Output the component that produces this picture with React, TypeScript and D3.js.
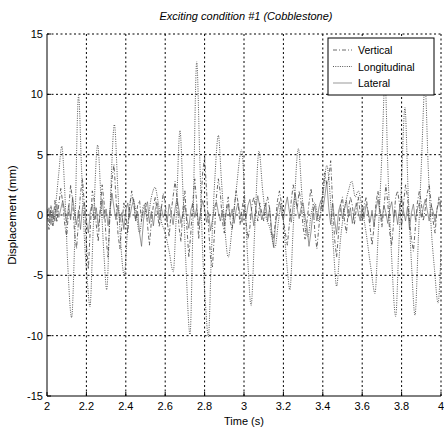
import React from "react";
import * as d3 from "d3";

const title = "Exciting condition #1 (Cobblestone)";
const xLabel = "Time (s)";
const yLabel = "Displacement (mm)";
const xTicks = [2, 2.2, 2.4, 2.6, 2.8, 3, 3.2, 3.4, 3.6, 3.8, 4];
const yTicks = [-15, -10, -5, 0, 5, 10, 15];
const seriesNames = ["Vertical", "Longitudinal", "Lateral"];

// Longitudinal: key samples (time, value)
const longT = [
  2.0, 2.01, 2.02, 2.03, 2.045, 2.06, 2.075, 2.09, 2.105, 2.125, 2.14, 2.16, 2.175, 2.19, 2.205, 2.218,
  2.235, 2.257, 2.275, 2.29, 2.303, 2.32, 2.342, 2.36, 2.375, 2.392, 2.41, 2.43, 2.45, 2.47, 2.49, 2.51,
  2.53, 2.548, 2.565, 2.58, 2.6, 2.62, 2.641, 2.655, 2.675, 2.69, 2.705, 2.726, 2.742, 2.76, 2.775, 2.79,
  2.805, 2.819, 2.835, 2.852, 2.87, 2.885, 2.9, 2.92, 2.94, 2.96, 2.988, 3.005, 3.02, 3.036, 3.055, 3.076,
  3.095, 3.11, 3.13, 3.157, 3.175, 3.19, 3.205, 3.22, 3.233, 3.25, 3.276, 3.295, 3.31, 3.325, 3.34, 3.36,
  3.38, 3.4, 3.42, 3.44, 3.455, 3.47, 3.49, 3.51, 3.53, 3.547, 3.565, 3.58, 3.6, 3.62, 3.645, 3.665,
  3.68, 3.7, 3.716, 3.73, 3.748, 3.77, 3.785, 3.8, 3.817, 3.833, 3.85, 3.868, 3.885, 3.9, 3.919, 3.935,
  3.95, 3.967, 3.985, 4.0,
];
const longV = [
  0.3, -0.5, 0.4, -0.8, 1.0, 3.5, 5.7, 2.0, -4.0, -8.5, -2.5, 9.9, 4.0, -2.0, -5.5, -7.6,
  -1.0, 5.8, 1.0, -3.5, -6.2, 0.5, 7.5, 2.0, -2.5, -5.0, -1.0, 1.5, 0.5, -1.5, 0.8, -0.3,
  1.5, 2.3, 1.0, -0.5, -1.5, -3.0, -4.7, -0.5, 7.0, 2.0, -4.0, -9.9, 0.0, 12.7, 5.0, -3.0,
  -7.5, -10.1, -3.0, 3.0, 6.6, 3.0, -0.5, -3.5, -1.0, 2.0, 5.4, 1.0, -4.0, -7.5, -1.0, 5.3,
  2.0, 0.0, -1.0, -2.7, -0.5, 1.0, -1.5, -4.5, -6.2, -1.0, 5.5, 1.5, -1.0, -1.8, 0.0, 1.0,
  -0.5, 1.5, 4.1, 1.0, -3.0, -5.9, -2.0, 0.5, 2.0, 2.8, 1.5, 2.0, 0.5, -1.5, -4.5, -6.5,
  -2.0, 5.0, 11.2, 4.0, -3.0, -8.4, -3.0, 3.0, 8.9, 2.0, -4.0, -8.3, -2.0, 4.0, 10.8, 4.0,
  -1.0, -4.5, -7.3, -3.0,
];

// Vertical & Lateral: samples every 0.01 s from 2.00 to 4.00
const verticalV = [
  0.5, -1.2, 0.8, -0.9, 1.2, -0.6, 0.9, 2.2, 1.0, -0.8,
  -1.8, 0.5, 2.5, 1.2, -1.5, -2.8, -0.5, 1.8, 3.0, 0.8,
  -2.5, -4.5, -1.0, 2.0, 1.2, -0.8, -2.2, 0.5, 2.5, 1.0,
  -2.0, -3.5, 0.2, 3.0, 4.2, 1.5, -1.5, -2.8, -0.8, 1.0,
  0.2, -1.5, 0.8, 2.0, 1.0, -0.5, 0.8, 1.2, -0.5, 0.5,
  1.0, -0.8, -2.5, -0.5, 0.8, 1.5, 0.2, -1.0, 0.5, 1.8,
  1.0, -0.5, -1.8, 0.2, 1.5, 2.8, 1.5, -1.0, -2.2, 0.5,
  2.0, -1.0, -3.5, -1.5, 1.0, 3.0, 1.0, -2.0, 0.5, 3.5,
  4.8, 2.0, -1.0, -3.5, -4.3, -1.5, 1.5, 3.0, 1.8, -0.5,
  -1.5, 0.5, 1.5, -0.5, -1.2, 0.5, 2.0, 1.0, -0.8, 0.5,
  1.5, -0.5, -2.0, -1.0, 0.8, 1.5, 0.5, -0.5, 1.0, 0.2,
  -0.5, 0.8, 1.5, 0.5, -1.5, -2.0, -0.5, 1.2, 2.0, 1.0,
  -0.5, -1.5, -2.5, -0.8, 1.2, 2.5, 1.5, 0.5, 2.0, 1.0,
  -1.0, -2.0, -0.5, 1.0, 2.2, 1.0, -1.5, -2.8, -1.0, 0.5,
  2.0, 3.5, 2.5, 3.0, 4.5, 1.0, -2.0, -3.5, -1.5, 0.8,
  1.5, -0.5, -1.5, 0.5, 1.5, 0.8, -0.8, 0.5, 1.5, 0.2,
  -0.5, 0.8, 1.5, 0.2, -1.0, -2.5, -1.0, 1.0, 2.0, 0.5,
  -1.0, 0.5, 2.5, 1.0, -1.5, -2.5, -0.5, 1.5, 2.0, 0.8,
  -1.0, 1.0, 2.5, 1.5, -0.5, -2.0, -3.0, -1.0, 1.0, 2.0,
  1.0, -0.5, 0.5, 1.8, 2.5, 1.0, -0.5, -1.5, 0.5, 1.5,
  0.8,
];
const lateralV = [
  -0.3, 0.6, -0.8, 0.4, -0.5, 0.9, -0.2, 0.5, 1.2, 0.3,
  -0.6, 0.8, -0.4, 1.5, 0.2, -0.8, 0.4, -1.2, 0.6, 1.0,
  -0.5, -1.5, 0.3, 0.9, -0.4, 0.6, -1.0, 0.2, 1.3, -0.3,
  0.5, -0.9, 0.4, 1.8, 0.6, -0.4, 0.8, -0.6, 0.2, -1.2,
  0.4, 1.0, -0.2, 0.7, 1.3, -0.5, 0.3, -1.5, -2.6, -0.4,
  0.6, 1.1, -0.7, 0.3, -0.9, 0.5, 1.0, -0.4, 0.7, -0.2,
  0.3, -0.6, 0.9, 0.2, -0.8, 0.5, 1.4, 0.4, -0.7, 0.2,
  0.8, -0.3, -1.1, 0.4, 1.0, -0.2, 0.6, -0.9, 0.3, 1.2,
  0.5, -0.6, 0.2, -1.3, -0.4, 0.7, 1.1, 0.2, -0.5, 0.4,
  -0.8, 0.3, 0.9, -0.2, 0.5, -0.7, 0.4, 1.0, 0.1, -0.6,
  0.4, -0.3, 0.8, 1.3, 0.2, -0.9, 0.5, 1.6, 0.7, -0.4,
  0.3, 1.0, -0.5, 0.6, -1.2, -2.7, -0.8, 0.4, 1.1, 0.2,
  -0.4, 0.7, 1.5, 0.3, -0.6, 0.9, 1.8, 0.5, -0.3, 0.6,
  1.0, -0.2, -1.0, -2.6, -1.4, 0.2, 0.8, -0.5, 0.6, 1.2,
  0.4, 1.5, 2.8, 0.6, -0.8, 1.0, -0.4, -1.6, 0.3, 0.9,
  -0.3, 0.5, 1.2, -0.2, 0.6, -0.7, 0.3, 1.0, 0.2, -0.5,
  0.6, -0.2, 0.9, 0.3, -0.6, 0.4, -1.0, 0.5, 1.3, 0.2,
  -0.4, 0.8, 0.2, -0.7, 0.5, 1.1, -0.3, 0.4, -0.8, 0.6,
  1.4, 0.3, -0.5, 0.7, -1.2, 0.2, 0.9, -0.4, 0.5, 1.0,
  -0.2, 0.6, 1.3, 0.4, -0.5, 0.8, 0.3, -0.6, 0.5, 1.1,
  0.4,
];

const W = 444;
const H = 431;
const L = 47;
const R = 441;
const T = 34;
const B = 396;
const FONT = "'Liberation Sans', Arial, sans-serif";

export default function App() {
  const x = d3.scaleLinear().domain([2, 4]).range([L, R]);
  const y = d3.scaleLinear().domain([-15, 15]).range([B, T]);
  const sampleT = verticalV.map((_, i) => 2 + i * 0.01);

  const lineKey = d3
    .line<[number, number]>()
    .x((d) => x(d[0]))
    .y((d) => y(d[1]))
    .curve(d3.curveMonotoneX);
  const lineLin = d3
    .line<[number, number]>()
    .x((d) => x(d[0]))
    .y((d) => y(d[1]));

  const longPath = lineKey(longT.map((t, i) => [t, longV[i]] as [number, number])) || "";
  const vertPath = lineLin(sampleT.map((t, i) => [t, verticalV[i]] as [number, number])) || "";
  const latPath = lineLin(sampleT.map((t, i) => [t, lateralV[i]] as [number, number])) || "";

  const styles = [
    { dash: "4,2,1,2", color: "#444", w: 0.8 },
    { dash: "1,1.3", color: "#444", w: 0.9 },
    { dash: "", color: "#555", w: 0.6 },
  ];

  const lx = 328, ly = 38, lw = 106, lh = 57;

  return (
    <svg width={W} height={H} style={{ position: "absolute", left: 0, top: 0, background: "#fff" }} fontFamily={FONT}>
      <rect x={0} y={0} width={W} height={H} fill="#fff" />
      <defs>
        <clipPath id="plotclip">
          <rect x={L} y={T} width={R - L} height={B - T} />
        </clipPath>
      </defs>
      {/* grid */}
      {xTicks.slice(1).map((t) => (
        <line key={"gx" + t} x1={x(t)} x2={x(t)} y1={T} y2={B} stroke="#000" strokeWidth={1} strokeDasharray="2,2.5" />
      ))}
      {yTicks.slice(1).map((t) => (
        <line key={"gy" + t} x1={L} x2={R} y1={y(t)} y2={y(t)} stroke="#000" strokeWidth={1} strokeDasharray="2,2.5" />
      ))}
      {/* ticks */}
      {xTicks.map((t) => (
        <line key={"tx" + t} x1={x(t)} x2={x(t)} y1={B} y2={B - 4} stroke="#000" strokeWidth={1} />
      ))}
      {yTicks.map((t) => (
        <line key={"ty" + t} x1={L} x2={L + 4} y1={y(t)} y2={y(t)} stroke="#000" strokeWidth={1} />
      ))}
      {/* data */}
      <g clipPath="url(#plotclip)" fill="none">
        <path d={vertPath} stroke={styles[0].color} strokeWidth={styles[0].w} strokeDasharray={styles[0].dash} />
        <path d={longPath} stroke={styles[1].color} strokeWidth={styles[1].w} strokeDasharray={styles[1].dash} />
        <path d={latPath} stroke={styles[2].color} strokeWidth={styles[2].w} />
      </g>
      {/* axes */}
      <line x1={L} x2={L} y1={T} y2={B} stroke="#000" strokeWidth={1} />
      <line x1={L} x2={R} y1={B} y2={B} stroke="#000" strokeWidth={1} />
      {/* tick labels */}
      {xTicks.map((t) => (
        <text key={"lx" + t} x={x(t)} y={B + 14} fontSize={11} textAnchor="middle" fill="#000">
          {String(t)}
        </text>
      ))}
      {yTicks.map((t) => (
        <text key={"ly" + t} x={L - 4} y={y(t) + 4} fontSize={11} textAnchor="end" fill="#000">
          {String(t)}
        </text>
      ))}
      <text x={(L + R) / 2} y={B + 29} fontSize={11} textAnchor="middle" fill="#000">{xLabel}</text>
      <text transform={`translate(16,${(T + B) / 2}) rotate(-90)`} fontSize={11.5} textAnchor="middle" fill="#000">{yLabel}</text>
      <text x={(L + R) / 2 + 2} y={20} fontSize={11} fontStyle="italic" textAnchor="middle" fill="#000">{title}</text>
      {/* legend */}
      <rect x={lx} y={ly} width={lw} height={lh} fill="#fff" stroke="#000" strokeWidth={1} />
      {seriesNames.map((n, i) => {
        const cy = ly + 12 + i * 16.5;
        const s = styles[i];
        return (
          <g key={n}>
            <line x1={lx + 5} x2={lx + 24} y1={cy} y2={cy} stroke={s.color} strokeWidth={s.w} strokeDasharray={s.dash || undefined} />
            <text x={lx + 30} y={cy + 4} fontSize={10.5} fill="#000">{n}</text>
          </g>
        );
      })}
    </svg>
  );
}
